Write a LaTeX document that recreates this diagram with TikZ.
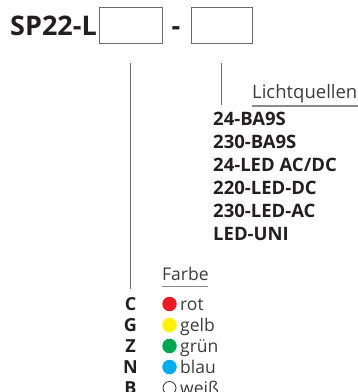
\documentclass[tikz,border=0pt]{standalone}
\usepackage{fontspec}
\setmainfont{Open Sans}
\definecolor{txtdark}{HTML}{231F20}
\definecolor{txtlight}{HTML}{3C3C3C}
\definecolor{linegray}{HTML}{6A6A6A}
\definecolor{ulgray}{HTML}{8A8A8A}
\definecolor{cred}{HTML}{ED1C24}
\definecolor{cyellow}{HTML}{FFF200}
\definecolor{cgreen}{HTML}{00A651}
\definecolor{cblue}{HTML}{00AEEF}
\tikzset{
  codebox/.style={draw=linegray, line width=0.9pt, minimum width=63pt, minimum height=36pt, inner sep=0pt},
  head/.style={font=\fontsize{27}{30}\selectfont\bfseries, text=txtdark, inner sep=0pt, anchor=base west},
  item/.style={font=\fontsize{18.5}{21}\selectfont\bfseries, text=txtdark, inner sep=0pt, anchor=base west},
  letter/.style={font=\fontsize{18}{20}\selectfont\bfseries, text=txtdark, inner sep=0pt, anchor=base},
  label/.style={font=\fontsize{18.5}{21}\selectfont, text=txtlight, inner sep=0pt, anchor=base west},
  flabel/.style={font=\fontsize{17.5}{20}\selectfont, text=txtlight, inner sep=0pt, anchor=base west},
  dot/.style={circle, minimum size=14.5pt, inner sep=0pt},
  leader/.style={draw=linegray, line width=0.9pt},
  uline/.style={draw=ulgray, line width=1.4pt}
}
\begin{document}
\begin{tikzpicture}[x=1pt,y=-1pt]
\useasboundingbox (0,0) rectangle (358,392);
% header
\node[head] (sp) at (10,35) {SP22-L};
\node[codebox] (box1) at (130.5,25) {};
\node[head, anchor=base] (dash) at (176,35) {-};
\node[codebox, minimum width=61pt] (box2) at (221.5,25) {};
% leaders
\coordinate (l1top) at (130.5,63);
\coordinate (l1bot) at (130.5,289);
\coordinate (l2top) at (221.5,63);
\coordinate (l2bot) at (221.5,105);
\draw[leader] (l1top) -- (l1bot);
\draw[leader] (l2top) -- (l2bot);
% Lichtquellen
\node[label] (licht) at (252,98) {Lichtquellen};
\coordinate (lu1) at (252,106);
\coordinate (lu2) at (358,106);
\draw[uline] (lu1) -- (lu2);
\node[item] (i1) at (213,125) {24-BA9S};
\node[item] (i2) at (213,148) {230-BA9S};
\node[item] (i3) at (213,171) {24-LED AC/DC};
\node[item] (i4) at (213,194) {220-LED-DC};
\node[item] (i5) at (213,217) {230-LED-AC};
\node[item] (i6) at (213,240) {LED-UNI};
% Farbe
\node[flabel] (farbe) at (162,280.5) {Farbe};
\coordinate (fu1) at (162,286.5);
\coordinate (fu2) at (208,286.5);
\draw[uline] (fu1) -- (fu2);
\node[letter] (c) at (130.5,310.5) {C};
\node[letter] (g) at (130.5,331.5) {G};
\node[letter] (z) at (130.5,352.5) {Z};
\node[letter] (n) at (130.5,373.5) {N};
\node[letter] (b) at (130.5,394.5) {B};
\node[dot, fill=cred] (dr) at (169.5,304) {};
\node[dot, fill=cyellow] (dy) at (169.5,325) {};
\node[dot, fill=cgreen] (dg) at (169.5,346) {};
\node[dot, fill=cblue] (db) at (169.5,367) {};
\node[dot, draw=txtdark, line width=0.7pt, fill=white, minimum size=13pt] (dw) at (169.5,388) {};
\node[flabel] (rot) at (180,310.5) {rot};
\node[flabel] (gelb) at (180,331.5) {gelb};
\node[flabel] (gruen) at (180,352.5) {grün};
\node[flabel] (blau) at (180,373.5) {blau};
\node[flabel] (weiss) at (180,394.5) {weiß};
\end{tikzpicture}
\end{document}
